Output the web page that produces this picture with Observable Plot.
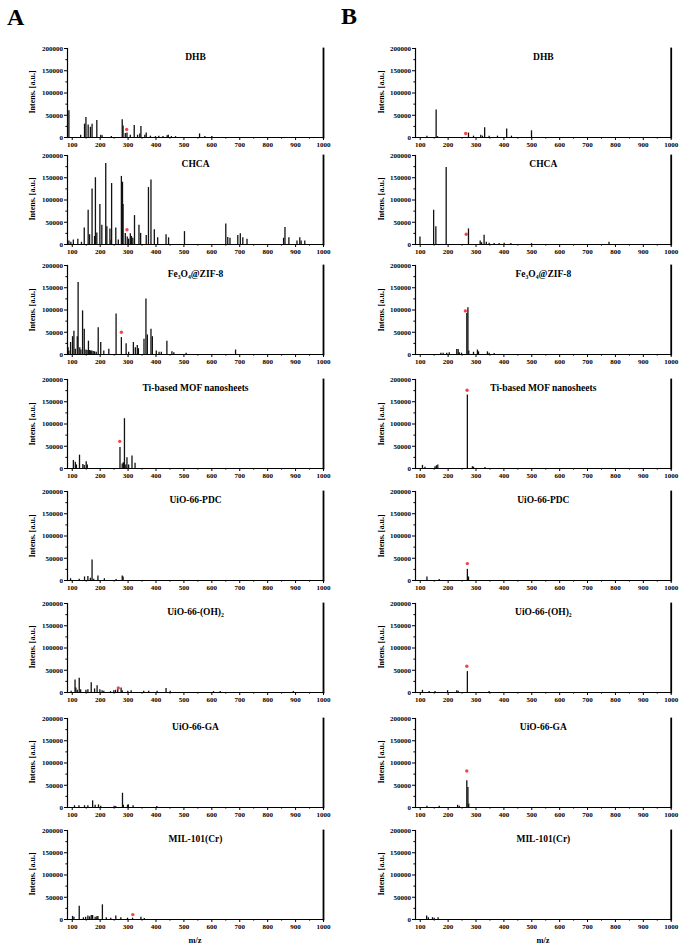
<!DOCTYPE html>
<html><head><meta charset="utf-8">
<script src="https://cdn.jsdelivr.net/npm/d3@7"></script>
<script src="https://cdn.jsdelivr.net/npm/@observablehq/plot@0.6"></script>
<style>
body{margin:0;background:#fff;}
#wrap{position:relative;width:683px;height:945px;overflow:hidden;font-family:'Liberation Serif',serif;font-weight:bold;color:#000;}
.big{position:absolute;font-size:24px;line-height:24px;}
.ylab{position:absolute;width:80px;height:10px;line-height:10px;font-size:8px;text-align:center;transform:rotate(-90deg);white-space:nowrap;}
.xlab{position:absolute;width:120px;text-align:center;font-size:8.5px;line-height:10px;}
</style></head>
<body><div id="wrap"></div>
<script>
// ---- data ----
const mzRange = [83, 1000];
const intensRange = [0, 200000];
const yTicks = [0, 50000, 100000, 150000, 200000];
const yMinor = [25000, 75000, 125000, 175000];
const xTicks = [100, 200, 300, 400, 500, 600, 700, 800, 900, 1000];
const xMinor = [150, 250, 350, 450, 550, 650, 750, 850, 950];
const titles = ["DHB", "CHCA", "Fe₃O₄@ZIF-8", "Ti-based MOF nanosheets", "UiO-66-PDC", "UiO-66-(OH)₂", "UiO-66-GA", "MIL-101(Cr)"];
const panelLetters = ["A", "B"];
const yLabel = "Intens. [a.u.]";
const xLabel = "m/z";

// column A spectra: [m/z, intensity]
const A_DHB = [[88,60000],[130,5000],[144,30000],[149,45000],[157,28000],[165,23000],[171,30000],[188,38000],[202,5000],[207,4000],[240,2000],[279,40000],[282,26000],[290,9000],[296,10000],[308,5000],[322,27000],[334,5000],[342,8000],[346,25000],[360,5000],[365,10000],[380,3000],[398,2000],[410,3000],[425,2000],[440,4000],[444,5000],[455,2000],[470,2000],[556,8000],[575,2000],[600,2000]];
const A_CHCA = [[88,8000],[95,5000],[104,10000],[120,12000],[133,5000],[143,37000],[157,77000],[162,22000],[171,125000],[180,18000],[183,150000],[188,26000],[199,90000],[206,43000],[220,182000],[224,40000],[235,35000],[239,10000],[241,137000],[256,37000],[265,10000],[276,153000],[280,140000],[282,90000],[290,25000],[297,17000],[302,12000],[308,24000],[312,18000],[317,14000],[323,65000],[339,43000],[345,25000],[365,20000],[373,128000],[382,145000],[394,33000],[406,15000],[436,22000],[445,15000],[502,29000],[650,46000],[657,16000],[665,14000],[693,20000],[702,24000],[711,15000],[726,12000],[857,14000],[862,38000],[876,15000],[905,8000],[915,15000],[920,8000],[933,8000]];
const A_FE = [[85,15000],[88,8000],[94,27000],[101,40000],[106,52000],[111,12000],[118,40000],[121,162000],[127,15000],[131,10000],[137,98000],[143,57000],[149,10000],[153,9000],[158,30000],[162,9000],[166,8000],[170,8000],[175,7000],[180,6000],[186,5000],[193,60000],[202,27000],[213,8000],[231,12000],[257,91000],[276,38000],[293,24000],[302,5000],[319,27000],[326,15000],[333,20000],[337,13000],[357,34000],[364,125000],[369,44000],[382,57000],[387,40000],[401,8000],[411,5000],[419,5000],[439,30000],[457,6000],[464,4000],[508,3000],[685,10000]];
const A_TI = [[104,18000],[111,14000],[115,8000],[126,30000],[138,9000],[143,7000],[150,15000],[154,8000],[271,47000],[279,10000],[283,13000],[287,112000],[292,8000],[296,24000],[302,8000],[314,28000],[325,12000]];
const A_PDC = [[94,4000],[125,3000],[144,8000],[156,9000],[165,5000],[171,46000],[177,3000],[192,10000],[215,4000],[257,2000],[279,10000],[282,8000]];
const A_OH = [[96,3000],[110,28000],[113,10000],[118,5000],[125,32000],[130,6000],[149,5000],[156,6000],[168,22000],[180,8000],[189,15000],[199,6000],[207,4000],[213,3000],[237,2000],[249,4000],[255,5000],[263,8000],[275,10000],[279,4000],[299,3000],[311,4000],[356,3000],[374,3000],[404,3000],[436,9000],[451,3000],[606,2000],[630,2000],[892,2000]];
const A_GA = [[108,4000],[124,4000],[144,4000],[156,4000],[173,15000],[182,5000],[194,6000],[202,3000],[250,3000],[256,2000],[280,32000],[283,5000],[298,5000],[301,6000],[318,4000],[403,2000]];
const A_MIL = [[101,7000],[106,5000],[125,30000],[140,4000],[148,5000],[156,8000],[162,6000],[168,9000],[173,9000],[182,5000],[188,6000],[192,7000],[208,33000],[222,4000],[238,3000],[256,8000],[274,4000],[298,3000],[316,3000],[346,5000],[358,2000]];

// column B spectra: [m/z, intensity]
const B_DHB = [[124,3000],[157,62000],[162,2000],[273,10000],[291,3000],[317,5000],[323,3000],[331,22000],[347,3000],[377,3000],[410,19000],[427,3000],[499,15000]];
const B_CHCA = [[99,17000],[148,77000],[156,40000],[193,173000],[273,35000],[315,8000],[320,4000],[329,21000],[337,5000],[347,3000],[365,2000],[383,2000],[401,3000],[425,2000],[499,2000],[777,5000]];
const B_FE = [[174,3000],[182,3000],[195,3000],[204,4000],[231,11000],[236,11000],[240,4000],[248,3000],[267,92000],[271,105000],[274,8000],[291,5000],[305,10000],[309,6000],[341,6000],[347,3000],[365,2000]];
const B_TI = [[108,7000],[117,3000],[153,4000],[158,6000],[163,8000],[269,165000],[287,4000],[291,3000],[332,2000]];
const B_PDC = [[124,8000],[168,2000],[269,25000],[273,8000]];
const B_OH = [[108,5000],[132,2000],[153,2000],[198,4000],[231,4000],[236,3000],[269,47000],[347,2000]];
const B_GA = [[124,3000],[168,3000],[234,5000],[240,3000],[267,60000],[271,45000],[274,8000]];
const B_MIL = [[123,8000],[129,4000],[144,4000],[150,3000],[164,4000]];

const peaksA = [A_DHB, A_CHCA, A_FE, A_TI, A_PDC, A_OH, A_GA, A_MIL];
const peaksB = [B_DHB, B_CHCA, B_FE, B_TI, B_PDC, B_OH, B_GA, B_MIL];
// red asterisk markers: [m/z, intensity] or null
const starsA = [[295,18000],[296,33000],[276,50000],[270,61000],null,[265,10000],null,[317,11000]];
const starsB = [[263,9000],[265,23000],[262,98000],[268,176000],[269,38000],[267,59000],[267,82000],null];

// ---- layout ----
const wrap = document.getElementById("wrap");
const rowTops = [47.5, 154.5, 265, 379, 491, 602.5, 717.5, 829.5];
const PH = 89, MT = 12, MB = 16;
const colLeft = [0, 340], colWidth = [340, 343], colML = [67, 75], colMR = [17, 12.3];
const ylabX = [33, 382];

function drawPanel(col, row, peaks, star) {
  const data = peaks.map(([mz, v]) => ({mz, v}));
  const marks = [
    Plot.ruleX(data, {x: "mz", y1: 0, y2: "v", stroke: "#111", strokeWidth: 1.3}),
    Plot.axisY({ticks: yTicks, tickSize: 3, tickPadding: 1.5, tickFormat: d => String(d), label: null}),
    Plot.axisY({ticks: yMinor, tickSize: 1.6, tickFormat: () => "", label: null}),
    Plot.axisX({ticks: xTicks, tickSize: 3, tickPadding: 1.5, tickFormat: d => String(d), label: null}),
    Plot.axisX({ticks: xMinor, tickSize: 1.6, tickFormat: () => "", label: null}),
    Plot.frame({anchor: "left", strokeWidth: 1.2}),
    Plot.frame({anchor: "bottom", strokeWidth: 1.2}),
    Plot.frame({anchor: "right", strokeWidth: 1.8}),
    Plot.text([titles[row]], {frameAnchor: "top", dy: 8.5, fontSize: 9.5, fontWeight: "bold", lineAnchor: "middle"})
  ];
  if (star) marks.push(Plot.dot([star], {x: d => d[0], y: d => d[1], r: 1.7, fill: "#f0484a"}));
  const svg = Plot.plot({
    width: colWidth[col], height: PH + MT + MB,
    marginLeft: colML[col], marginRight: colMR[col], marginTop: MT, marginBottom: MB,
    x: {domain: mzRange}, y: {domain: intensRange},
    style: {fontFamily: "'Liberation Serif', serif", fontWeight: "bold", fontSize: "7px", background: "transparent", overflow: "visible", color: "#000"},
    marks
  });
  svg.style.position = "absolute";
  svg.style.left = colLeft[col] + "px";
  svg.style.top = (rowTops[row] - MT) + "px";
  wrap.appendChild(svg);
  const yl = document.createElement("div");
  yl.className = "ylab";
  yl.textContent = yLabel;
  yl.style.left = (ylabX[col] - 40) + "px";
  yl.style.top = (rowTops[row] + PH / 2 - 5) + "px";
  wrap.appendChild(yl);
}

for (let r = 0; r < 8; r++) {
  drawPanel(0, r, peaksA[r], starsA[r]);
  drawPanel(1, r, peaksB[r], starsB[r]);
}

[[7, 5], [341, 4]].forEach(([x, y], i) => {
  const d = document.createElement("div");
  d.className = "big"; d.textContent = panelLetters[i];
  d.style.left = x + "px"; d.style.top = y + "px";
  wrap.appendChild(d);
});
[195, 543].forEach(cx => {
  const d = document.createElement("div");
  d.className = "xlab"; d.textContent = xLabel;
  d.style.left = (cx - 60) + "px"; d.style.top = "935px";
  wrap.appendChild(d);
});
</script></body></html>
